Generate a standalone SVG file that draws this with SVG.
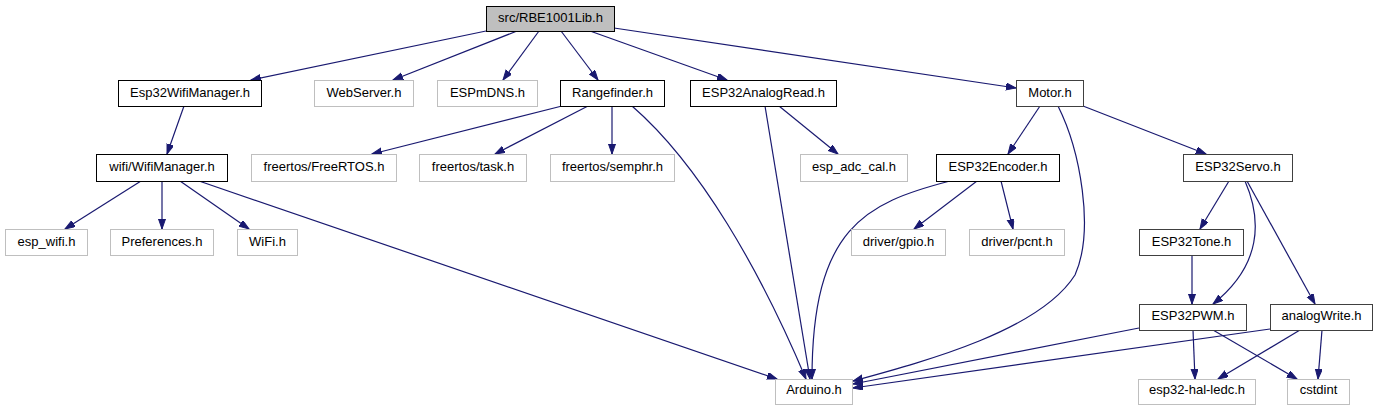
<svg xmlns="http://www.w3.org/2000/svg" width="1379" height="411" viewBox="0 0 1379 411">
<defs>
<marker id="ah" markerUnits="userSpaceOnUse" markerWidth="11" markerHeight="8" refX="10" refY="3.5" orient="auto">
<path d="M0,0 L10,3.5 L0,7 z" fill="#191970" stroke="#191970" stroke-width="1"/>
</marker>
</defs>
<style>
.n rect{fill:#fff;stroke:#000;stroke-width:1}
.n.g rect{stroke:#bfbfbf}
.n.d rect{stroke:#404040}
.n.root rect{fill:#bfbfbf}
.n text{font-family:"Liberation Sans",Arial,sans-serif;font-size:13px;text-anchor:middle;fill:#000}
#edges path{fill:none;stroke:#191970;stroke-width:1.2;marker-end:url(#ah)}
</style>
<rect width="1379" height="411" fill="#fff"/>
<g id="edges">
<path d="M486,31 L251,80"/>
<path d="M517,31 L393,80"/>
<path d="M539,31 L503,80"/>
<path d="M561,31 L598,80"/>
<path d="M590,31 L727,80"/>
<path d="M614,28 L1016,88"/>
<path d="M184,106 L167,154"/>
<path d="M562,106 L372,154"/>
<path d="M588,106 L495,154"/>
<path d="M612,106 L612,154"/>
<path d="M632,106 C700,165 760,270 806,379"/>
<path d="M765,106 L810,379"/>
<path d="M779,106 L838,154"/>
<path d="M1040,106 L1008,154"/>
<path d="M1058,106 C1080,150 1095,230 1075,275 C1040,330 930,360 853,381"/>
<path d="M1083,106 L1206,154"/>
<path d="M950,181 C865,203 812,228 812,379"/>
<path d="M977,181 L914,229"/>
<path d="M1001,181 L1013,229"/>
<path d="M1229,181 L1200,229"/>
<path d="M1245,181 C1262,220 1262,265 1213,304"/>
<path d="M1247,181 L1315,304"/>
<path d="M1192,255 L1192,304"/>
<path d="M1139,328 L853,384"/>
<path d="M1193,330 L1195,379"/>
<path d="M1213,330 L1297,379"/>
<path d="M1270,329 L853,388"/>
<path d="M1300,330 L1218,379"/>
<path d="M1322,330 L1318,379"/>
<path d="M141,181 L65,229"/>
<path d="M162,181 L162,229"/>
<path d="M180,181 L249,229"/>
<path d="M199,181 L777,379"/>
</g>
<g id="n_root" class="n root"><rect x="486.5" y="6.5" width="128" height="25"/><text x="550.5" y="22">src/RBE1001Lib.h</text></g>
<g id="n_esp32wifimanager" class="n"><rect x="118.5" y="80.5" width="143" height="26"/><text x="190" y="97">Esp32WifiManager.h</text></g>
<g id="n_webserver" class="n g"><rect x="314.5" y="80.5" width="99" height="26"/><text x="364" y="97">WebServer.h</text></g>
<g id="n_espmdns" class="n g"><rect x="437.5" y="80.5" width="100" height="26"/><text x="487.5" y="97">ESPmDNS.h</text></g>
<g id="n_rangefinder" class="n"><rect x="560.5" y="80.5" width="104" height="26"/><text x="612.5" y="97">Rangefinder.h</text></g>
<g id="n_esp32analogread" class="n"><rect x="690.5" y="80.5" width="146" height="26"/><text x="763.5" y="97">ESP32AnalogRead.h</text></g>
<g id="n_motor" class="n d"><rect x="1016.5" y="80.5" width="67" height="26"/><text x="1050" y="97">Motor.h</text></g>
<g id="n_wifimanager" class="n"><rect x="96.5" y="154.5" width="131" height="27"/><text x="162" y="171">wifi/WifiManager.h</text></g>
<g id="n_freertos" class="n g"><rect x="251.5" y="154.5" width="145" height="27"/><text x="324" y="171">freertos/FreeRTOS.h</text></g>
<g id="n_task" class="n g"><rect x="419.5" y="154.5" width="107" height="27"/><text x="473" y="171">freertos/task.h</text></g>
<g id="n_semphr" class="n g"><rect x="550.5" y="154.5" width="124" height="27"/><text x="612.5" y="171">freertos/semphr.h</text></g>
<g id="n_espadccal" class="n g"><rect x="800.5" y="154.5" width="107" height="27"/><text x="854" y="171">esp_adc_cal.h</text></g>
<g id="n_esp32encoder" class="n"><rect x="936.5" y="154.5" width="123" height="27"/><text x="998" y="171">ESP32Encoder.h</text></g>
<g id="n_esp32servo" class="n d"><rect x="1183.5" y="154.5" width="109" height="27"/><text x="1238" y="171">ESP32Servo.h</text></g>
<g id="n_espwifi" class="n g"><rect x="5.5" y="229.5" width="82" height="26"/><text x="46.5" y="246">esp_wifi.h</text></g>
<g id="n_preferences" class="n g"><rect x="110.5" y="229.5" width="103" height="26"/><text x="162" y="246">Preferences.h</text></g>
<g id="n_wifi" class="n g"><rect x="237.5" y="229.5" width="60" height="26"/><text x="267.5" y="246">WiFi.h</text></g>
<g id="n_gpio" class="n g"><rect x="851.5" y="229.5" width="94" height="26"/><text x="898.5" y="246">driver/gpio.h</text></g>
<g id="n_pcnt" class="n g"><rect x="969.5" y="229.5" width="95" height="26"/><text x="1017" y="246">driver/pcnt.h</text></g>
<g id="n_esp32tone" class="n d"><rect x="1139.5" y="229.5" width="104" height="26"/><text x="1191.5" y="246">ESP32Tone.h</text></g>
<g id="n_esp32pwm" class="n d"><rect x="1139.5" y="304.5" width="107" height="26"/><text x="1193" y="320">ESP32PWM.h</text></g>
<g id="n_analogwrite" class="n d"><rect x="1270.5" y="304.5" width="102" height="26"/><text x="1321.5" y="320">analogWrite.h</text></g>
<g id="n_arduino" class="n g"><rect x="775.5" y="379.5" width="77" height="25"/><text x="814" y="394">Arduino.h</text></g>
<g id="n_ledc" class="n g"><rect x="1138.5" y="379.5" width="117" height="25"/><text x="1197" y="394">esp32-hal-ledc.h</text></g>
<g id="n_cstdint" class="n g"><rect x="1287.5" y="379.5" width="62" height="25"/><text x="1318.5" y="394">cstdint</text></g>
</svg>
